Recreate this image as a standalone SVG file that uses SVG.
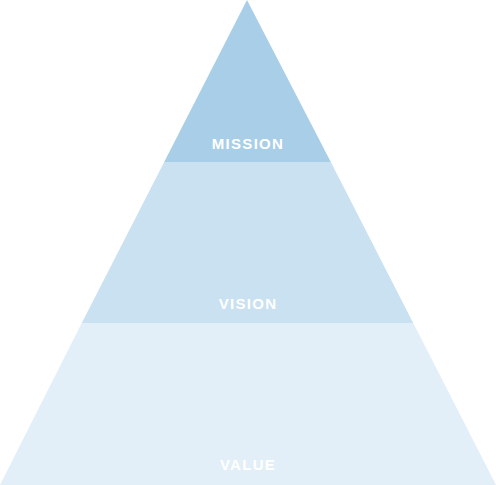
<svg xmlns="http://www.w3.org/2000/svg" width="496" height="485" viewBox="0 0 496 485">
<style>
.lbl{font-family:"Liberation Sans",Arial,sans-serif;font-weight:bold;font-size:15px;fill:#ffffff;text-anchor:middle;letter-spacing:1.3px}
</style>
<rect width="496" height="485" fill="#ffffff"/>
<g id="value">
<polygon points="81.8,323 413.2,323 496,485 0,485" fill="#e2eff8"/>
<text class="lbl" x="248" y="470">VALUE</text>
</g>
<g id="vision">
<polygon points="164.2,162 330.8,162 413.2,323 81.8,323" fill="#c9e1f1"/>
<text class="lbl" x="248" y="308.5">VISION</text>
</g>
<g id="mission">
<polygon points="247,0 330.8,162 164.2,162" fill="#a8cee8"/>
<text class="lbl" x="248" y="149">MISSION</text>
</g>
<g id="connectors"/>
</svg>
